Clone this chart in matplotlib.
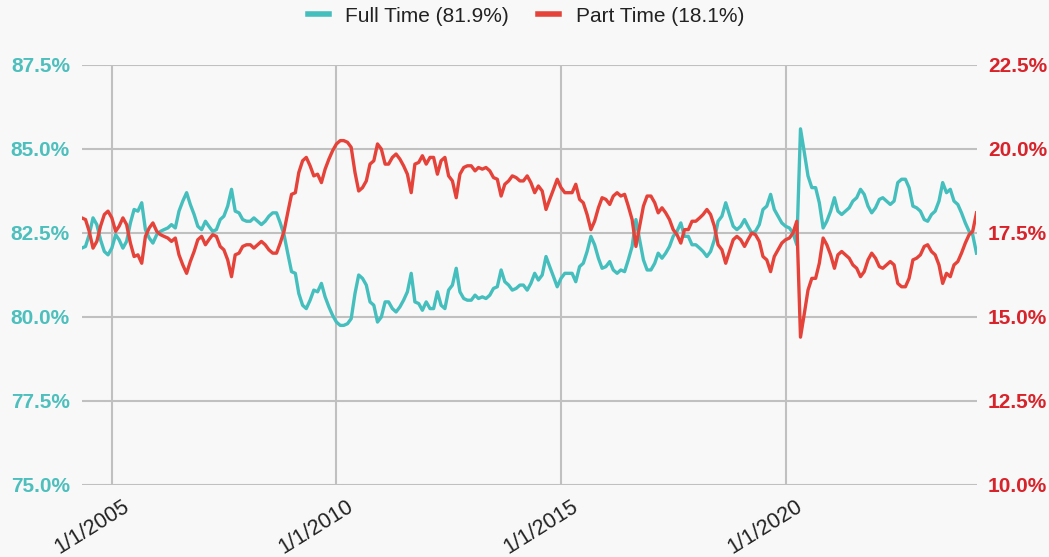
import matplotlib
matplotlib.use("Agg")
import matplotlib.pyplot as plt
from matplotlib.ticker import FuncFormatter, MultipleLocator
from matplotlib.transforms import ScaledTranslation
import pandas as pd

plt.rcParams['font.family'] = ['Liberation Sans', 'DejaVu Sans']

start_month = "2004-05-01"
n_months = 240

full_time = [
    82.05, 82.1, 82.45, 82.95, 82.75, 82.3, 81.95, 81.85, 82.05, 82.45,
    82.3, 82.05, 82.25, 82.8, 83.2, 83.15, 83.4, 82.6, 82.35, 82.2,
    82.45, 82.55, 82.6, 82.65, 82.75, 82.65, 83.15, 83.45, 83.7, 83.35,
    83.05, 82.7, 82.6, 82.85, 82.7, 82.55, 82.6, 82.9, 83.0, 83.3,
    83.8, 83.15, 83.1, 82.9, 82.85, 82.85, 82.95, 82.85, 82.75, 82.85,
    83.0, 83.1, 83.1, 82.8, 82.45, 81.9, 81.35, 81.3, 80.7, 80.35,
    80.25, 80.5, 80.8, 80.75, 81.0, 80.6, 80.3, 80.05, 79.85, 79.75,
    79.75, 79.8, 79.95, 80.7, 81.25, 81.15, 80.95, 80.45, 80.35, 79.85,
    80.0, 80.45, 80.45, 80.25, 80.15, 80.3, 80.5, 80.75, 81.3, 80.45,
    80.4, 80.2, 80.45, 80.25, 80.25, 80.75, 80.35, 80.25, 80.8, 80.95,
    81.45, 80.75, 80.55, 80.5, 80.5, 80.65, 80.55, 80.6, 80.55, 80.65,
    80.85, 80.9, 81.4, 81.05, 80.95, 80.8, 80.85, 80.95, 80.95, 80.8,
    81.0, 81.3, 81.1, 81.25, 81.8, 81.5, 81.2, 80.9, 81.15, 81.3,
    81.3, 81.3, 81.05, 81.5, 81.6, 81.95, 82.4, 82.15, 81.75, 81.45,
    81.5, 81.65, 81.4, 81.3, 81.4, 81.35, 81.7, 82.1, 82.9, 82.3,
    81.7, 81.4, 81.4, 81.6, 81.9, 81.75, 81.9, 82.1, 82.4, 82.55,
    82.8, 82.4, 82.4, 82.15, 82.15, 82.05, 81.95, 81.8, 81.95, 82.3,
    82.85, 83.0, 83.4, 83.05, 82.7, 82.6, 82.7, 82.9, 82.7, 82.5,
    82.55, 82.75, 83.2, 83.3, 83.65, 83.2, 83.0, 82.8, 82.7, 82.65,
    82.5, 82.15, 85.6, 84.9, 84.2, 83.85, 83.85, 83.4, 82.65, 82.85,
    83.15, 83.55, 83.15, 83.05, 83.15, 83.25, 83.45, 83.55, 83.8, 83.65,
    83.3, 83.1, 83.25, 83.5, 83.55, 83.45, 83.35, 83.45, 84.0, 84.1,
    84.1, 83.85, 83.3, 83.25, 83.15, 82.9, 82.85, 83.05, 83.15, 83.45,
    84.0, 83.7, 83.8, 83.45, 83.35, 83.1, 82.8, 82.55, 82.45, 81.9,
]

part_time = [
    17.95, 17.9, 17.55, 17.05, 17.25, 17.7, 18.05, 18.15, 17.95, 17.55,
    17.7, 17.95, 17.75, 17.2, 16.8, 16.85, 16.6, 17.4, 17.65, 17.8,
    17.55, 17.45, 17.4, 17.35, 17.25, 17.35, 16.85, 16.55, 16.3, 16.65,
    16.95, 17.3, 17.4, 17.15, 17.3, 17.45, 17.4, 17.1, 17.0, 16.7,
    16.2, 16.85, 16.9, 17.1, 17.15, 17.15, 17.05, 17.15, 17.25, 17.15,
    17.0, 16.9, 16.9, 17.2, 17.55, 18.1, 18.65, 18.7, 19.3, 19.65,
    19.75, 19.5, 19.2, 19.25, 19.0, 19.4, 19.7, 19.95, 20.15, 20.25,
    20.25, 20.2, 20.05, 19.3, 18.75, 18.85, 19.05, 19.55, 19.65, 20.15,
    20.0, 19.55, 19.55, 19.75, 19.85, 19.7, 19.5, 19.25, 18.7, 19.55,
    19.6, 19.8, 19.55, 19.75, 19.75, 19.25, 19.65, 19.75, 19.2, 19.05,
    18.55, 19.25, 19.45, 19.5, 19.5, 19.35, 19.45, 19.4, 19.45, 19.35,
    19.15, 19.1, 18.6, 18.95, 19.05, 19.2, 19.15, 19.05, 19.05, 19.2,
    19.0, 18.7, 18.9, 18.75, 18.2, 18.5, 18.8, 19.1, 18.85, 18.7,
    18.7, 18.7, 18.95, 18.5, 18.4, 18.05, 17.6, 17.85, 18.25, 18.55,
    18.5, 18.35, 18.6, 18.7, 18.6, 18.65, 18.3, 17.9, 17.1, 17.7,
    18.3, 18.6, 18.6, 18.4, 18.1, 18.25, 18.1, 17.9, 17.6, 17.45,
    17.2, 17.6, 17.6, 17.85, 17.85, 17.95, 18.05, 18.2, 18.05, 17.7,
    17.15, 17.0, 16.6, 16.95, 17.3, 17.4, 17.3, 17.1, 17.3, 17.5,
    17.45, 17.25, 16.8, 16.7, 16.35, 16.8, 17.0, 17.2, 17.3, 17.35,
    17.5, 17.85, 14.4, 15.1, 15.8, 16.15, 16.15, 16.6, 17.35, 17.15,
    16.85, 16.45, 16.85, 16.95, 16.85, 16.75, 16.55, 16.45, 16.2, 16.35,
    16.7, 16.9, 16.75, 16.5, 16.45, 16.55, 16.65, 16.55, 16.0, 15.9,
    15.9, 16.15, 16.7, 16.75, 16.85, 17.1, 17.15, 16.95, 16.85, 16.55,
    16.0, 16.3, 16.2, 16.55, 16.65, 16.9, 17.2, 17.45, 17.55, 18.1,
]

series_labels = ["Full Time (81.9%)", "Part Time (18.1%)"]
x_tick_dates = ["2005-01-01", "2010-01-01", "2015-01-01", "2020-01-01"]
x_tick_labels = ["1/1/2005", "1/1/2010", "1/1/2015", "1/1/2020"]
left_range = (75.0, 87.5)
right_range = (10.0, 22.5)

dates = pd.date_range(start_month, periods=n_months, freq="MS")

TEAL = "#45bfbd"
RED = "#e5433a"
LEFT_LBL = "#4dbfbd"
RIGHT_LBL = "#d8232b"
GRID = "#c0c0c0"
BG = "#f8f8f8"

fig = plt.figure(figsize=(10.49, 5.57), dpi=100, facecolor=BG)
ax = fig.add_axes([81.7 / 1049, 1 - 485 / 557, (976.5 - 81.7) / 1049, 420 / 557])
ax.set_facecolor(BG)
ax2 = ax.twinx()

l1, = ax.plot(dates, full_time, color=TEAL, lw=2.4, solid_joinstyle="round", zorder=3)
l2, = ax2.plot(dates, part_time, color=RED, lw=2.4, solid_joinstyle="round", zorder=3)

ax.set_xlim(dates[0], dates[-1])
ax.set_ylim(*left_range)
ax2.set_ylim(*right_range)
ax.yaxis.set_major_locator(MultipleLocator(2.5))
ax2.yaxis.set_major_locator(MultipleLocator(2.5))
ax.yaxis.set_major_formatter(FuncFormatter(lambda v, p: f"{v:.1f}%"))
ax2.yaxis.set_major_formatter(FuncFormatter(lambda v, p: f"{v:.1f}%"))

tick_pos = [pd.Timestamp(d) for d in x_tick_dates]
ax.set_xticks(tick_pos)
ax.set_xticklabels(x_tick_labels)

for a in (ax, ax2):
    for s in a.spines.values():
        s.set_visible(False)

ax.grid(True, axis="both", color=GRID, lw=1.5, zorder=0)
ax.set_axisbelow(True)

ax.tick_params(axis="y", length=0, pad=8.5, labelsize=15, labelcolor=LEFT_LBL)
ax2.tick_params(axis="y", length=0, pad=8.3, labelsize=15, labelcolor=RIGHT_LBL)
for t in ax.get_yticklabels() + ax2.get_yticklabels():
    t.set_fontweight("bold")

ax.tick_params(axis="x", length=0, pad=8, labelsize=15.5, labelcolor="#222222")
offset = ScaledTranslation(10 / 100, 0, fig.dpi_scale_trans)
for t in ax.get_xticklabels():
    t.set_rotation(32)
    t.set_ha("right")
    t.set_va("top")
    t.set_rotation_mode("anchor")
    t.set_transform(t.get_transform() + offset)

leg = fig.legend([l1, l2], series_labels, loc="center", bbox_to_anchor=(526 / 1049, 1 - 16 / 557),
                 ncol=2, frameon=False, fontsize=15, handlelength=1.0, handletextpad=0.8,
                 columnspacing=1.4, labelcolor="#222222")
for h in leg.get_lines():
    h.set_linewidth(4)

fig.savefig("out.png", dpi=100, facecolor=BG)
